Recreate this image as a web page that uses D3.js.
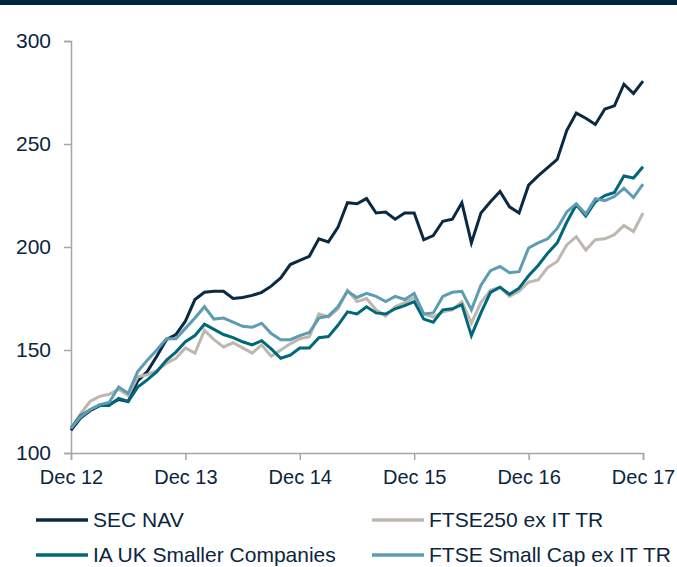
<!DOCTYPE html>
<html lang="en">
<head>
<meta charset="UTF-8">
<title>SEC NAV vs indices</title>
<script src="https://d3js.org/d3.v7.min.js"></script>
<style>
    body { margin: 0; background: #fff; }
    svg text { font-family: "Liberation Sans", Arial, sans-serif; fill: #0b2540; }
    .axis path, .axis line { stroke: #a6a6a6; stroke-width: 1.5; }
</style>
</head>
<body>
<div id="chart"></div>
<script>
    // monthly index values, Dec 12 .. Dec 17 (61 points)
    const secNav = [111, 117, 120.5, 123, 123.5, 126, 125, 135, 139.5, 147, 155, 157.5, 164,
        174.5, 178, 178.5, 178.5, 175, 175.5, 176.5, 178, 181, 185, 191.5,
        193.5, 195.5, 204, 202.5, 209.5, 221.5, 221, 223.5, 216.5, 217, 213.5, 216.5,
        216.5, 203.5, 205.5, 212.5, 213.5, 221.5, 202, 216.5, 222, 227, 219.5, 216.5,
        230, 234.5, 238.5, 242.5, 256.5, 265, 262.5, 259.5, 267, 268.5, 279, 274.5, 280.5];
    const ftse250 = [112, 119, 125, 127.5, 128.5, 131, 128, 137, 138, 140, 143.5, 146, 151,
        148.5, 159.5, 155, 151.5, 153.5, 151, 148.5, 152.5, 147, 150, 153,
        155.5, 156.5, 167.5, 166, 170, 179, 173.5, 175, 169.5, 166.5, 171, 173,
        175.5, 167.5, 166, 168.5, 169.5, 173.5, 163, 173, 179, 180.5, 176, 178.5,
        183, 184, 190, 193, 201, 205, 198.5, 203.5, 204, 206, 210.5, 207.5, 216.5];
    const iaSmaller = [112, 118, 121, 123, 123, 126.5, 125, 132, 135.5, 139.5, 145, 149, 154,
        157, 162.5, 160, 157.5, 156, 154, 152.5, 154.5, 150.5, 146, 147.5,
        151, 151, 156, 156.5, 162, 168.5, 167.5, 171, 168, 167.5, 170, 171.5,
        173.5, 165, 163.5, 169.5, 170, 172, 157, 168, 178, 180.5, 177, 180,
        186, 191, 197, 202, 212, 220.5, 215, 222, 225, 226.5, 234.5, 233.5, 239];
    const smallCap = [112, 117.5, 121, 123.5, 124.5, 132, 129, 139.5, 145, 150, 155.5, 155.5, 160.5,
        165.5, 171, 165, 165.5, 163.5, 161.5, 161, 163, 158, 155, 155,
        157, 158.5, 165.5, 166.5, 171, 178.5, 175.5, 177.5, 176, 173.5, 176, 174.5,
        177.5, 167.5, 168, 176, 178, 178.5, 169.5, 181.5, 188.5, 190.5, 187.5, 188,
        199.5, 202, 204, 209, 217, 221, 216, 223.5, 222.5, 224.5, 228.5, 224, 230.5];

    const seriesNames = ["SEC NAV", "FTSE250 ex IT TR", "IA UK Smaller Companies", "FTSE Small Cap ex IT TR"];
    const seriesColors = ["#0a2a44", "#bdb7b0", "#00687a", "#5e9cb4"];
    const xTickMonths = [0, 12, 24, 36, 48, 60];
    const xTickLabels = ["Dec 12", "Dec 13", "Dec 14", "Dec 15", "Dec 16", "Dec 17"];
    const yTicks = [100, 150, 200, 250, 300];

    const W = 677, H = 567;
    const margin = {top: 41, right: 34, bottom: 114, left: 71};

    const svg = d3.select("#chart").append("svg")
        .attr("width", W)
        .attr("height", H);

    // dark strip along the top
    svg.append("rect")
        .attr("x", 0).attr("y", 0)
        .attr("width", W).attr("height", 5)
        .attr("fill", "#00263e");

    const x = d3.scaleLinear().domain([0, 60]).range([margin.left, W - margin.right]);
    const y = d3.scaleLinear().domain([100, 300]).range([H - margin.bottom, margin.top]);

    const yAxis = svg.append("g")
        .attr("class", "axis")
        .attr("transform", `translate(${margin.left},0)`)
        .call(d3.axisLeft(y).tickValues(yTicks).tickSize(7).tickPadding(13));
    yAxis.selectAll("text").style("font-size", "21px");

    const xAxis = svg.append("g")
        .attr("class", "axis")
        .attr("transform", `translate(0,${H - margin.bottom})`)
        .call(d3.axisBottom(x).tickValues(xTickMonths).tickSize(7).tickPadding(10)
            .tickFormat((d, i) => xTickLabels[i]));
    xAxis.selectAll("text").style("font-size", "20px");

    const allSeries = [secNav, ftse250, iaSmaller, smallCap];

    const line = d3.line()
        .x((d, i) => x(i))
        .y(d => y(d));

    svg.append("g").selectAll("path")
        .data(allSeries)
        .enter().append("path")
        .attr("d", line)
        .attr("fill", "none")
        .attr("stroke", (d, i) => seriesColors[i])
        .attr("stroke-width", 3)
        .attr("stroke-linejoin", "miter");

    // legend, 2 x 2
    const legendPos = [[36, 520], [372, 520], [36, 555], [372, 555]];
    const legend = svg.selectAll(".legend")
        .data(seriesNames)
        .enter().append("g")
        .attr("class", "legend")
        .attr("transform", (d, i) => `translate(${legendPos[i][0]},${legendPos[i][1]})`);

    legend.append("line")
        .attr("x1", 0).attr("x2", 52)
        .attr("stroke", (d, i) => seriesColors[i])
        .attr("stroke-width", 3.5);

    legend.append("text")
        .attr("x", 57)
        .attr("dy", "0.35em")
        .style("font-size", "21px")
        .text(d => d);
</script>
</body>
</html>
